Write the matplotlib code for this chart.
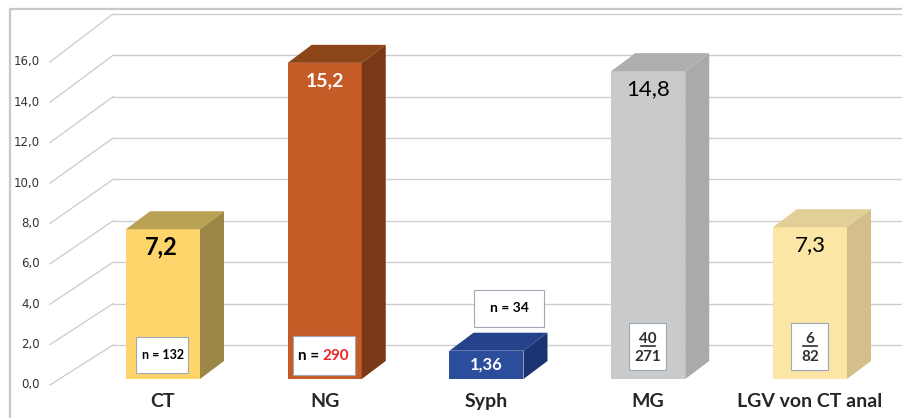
import matplotlib
matplotlib.use('Agg')
import matplotlib.pyplot as plt
from matplotlib.patches import Rectangle, Polygon

# Prevalence per pathogen (%)
categories = ['CT', 'NG', 'Syph', 'MG', 'LGV von CT anal']
rates = [7.2, 15.2, 1.36, 14.8, 7.3]
rate_labels = ['7,2', '15,2', '1,36', '14,8', '7,3']
positives = [None, None, None, 40, 6]
totals = [132, 290, 34, 271, 82]

yticks = [0, 2, 4, 6, 8, 10, 12, 14, 16]
ytick_labels = ['0,0', '2,0', '4,0', '6,0', '8,0', '10,0', '12,0', '14,0', '16,0']

# face colours: front, top, side
front_colors = ['#FDD56A', '#C55B27', '#2C4D9C', '#C9CACC', '#FCE6A6']
top_colors = ['#B9A253', '#8C4419', '#26428A', '#AEAFB1', '#E2CF98']
side_colors = ['#9C8747', '#7A3817', '#1C3371', '#A8AAAC', '#D4BF8C']

# label styles for the value on each bar
val_colors = ['black', 'white', 'white', 'black', 'black']
val_weights = ['bold', 'bold', 'bold', 'normal', 'normal']
val_sizes = [17, 14, 12, 16, 16]

plt.rcParams['font.family'] = ['Lato', 'DejaVu Sans']

fig = plt.figure(figsize=(9.03, 4.18), dpi=100)
ax = fig.add_axes([0, 0, 1, 1])
ax.set_xlim(-1.0077, 4.575)
ax.set_ylim(-1.875, 18.221)
ax.axis('off')

# pixel -> data unit helpers
PX = 1 / 161.75
PY = 1 / 20.8

bar_w = 74 * PX
dx, dy = 24 * PX, 18 * PY

# walls: front edge of floor and back wall
front_x, back_x = -0.699, -0.309
grid_c = '#CFCFCF'
for v, lab in zip(yticks, ytick_labels):
    yf = -0.288 + 0.9707 * v
    yb = 1.635 + 0.9947 * v
    ax.plot([front_x, back_x], [yf, yb], color=grid_c, lw=1, zorder=1)
    ax.plot([back_x, 4.575], [yb, yb], color=grid_c, lw=1, zorder=1)
    ax.text(-0.76, yf, lab, ha='right', va='center', fontsize=8.5,
            color='#333333', family='DejaVu Sans')

# outer frame
ax.plot([0.011, 0.011, 1.0], [0.0, 0.978, 0.978], transform=ax.transAxes,
        color='#C8C8C8', lw=1.6, zorder=1, clip_on=False)

for i, (cat, v) in enumerate(zip(categories, rates)):
    x0 = i - bar_w / 2
    x1 = i + bar_w / 2
    ax.add_patch(Rectangle((x0, 0), bar_w, v, facecolor=front_colors[i],
                           edgecolor='none', zorder=3))
    ax.add_patch(Polygon([(x0, v), (x1, v), (x1 + dx, v + dy), (x0 + dx, v + dy)],
                         closed=True, facecolor=top_colors[i], edgecolor='none', zorder=3))
    ax.add_patch(Polygon([(x1, 0), (x1 + dx, dy), (x1 + dx, v + dy), (x1, v)],
                         closed=True, facecolor=side_colors[i], edgecolor='none', zorder=3))

    # value label
    if v > 3:
        ty = v - 18 * PY
    else:
        ty = v / 2
    ax.text(i - 2 * PX if i == 0 else i, ty, rate_labels[i], ha='center', va='center',
            fontsize=val_sizes[i], color=val_colors[i], fontweight=val_weights[i], zorder=5)

    # category label
    ax.text(i, -23 * PY, cat, ha='center', va='center', fontsize=14,
            fontweight='bold', color='#262626', zorder=5)

box_kw = dict(facecolor='white', edgecolor='#A0A8B8', linewidth=0.8)

# n-count boxes
ax.add_patch(Rectangle((0 - 27 * PX, 6 * PY), 52 * PX, 36 * PY, zorder=4, **box_kw))
ax.text(0, 24 * PY, 'n = 132', ha='center', va='center', fontsize=9,
        fontweight='bold', color='black', zorder=5)

ax.add_patch(Rectangle((1 - 32 * PX, 4 * PY), 62 * PX, 39 * PY, zorder=4, **box_kw))
ax.text(1 - 2 * PX, 23 * PY, 'n = ', ha='right', va='center', fontsize=11,
        fontweight='bold', color='black', zorder=5)
ax.text(1 - 2 * PX, 23 * PY, str(totals[1]), ha='left', va='center', fontsize=11,
        fontweight='bold', color='#E8262A', zorder=5)

ax.add_patch(Rectangle((2 - 12 * PX, 52 * PY), 70 * PX, 37 * PY, zorder=4, **box_kw))
ax.text(2 + 23 * PX, 71 * PY, 'n = %d' % totals[2], ha='center', va='center',
        fontsize=10, fontweight='bold', color='black', zorder=5)

for i in (3, 4):
    ax.add_patch(Rectangle((i - 19 * PX, 9 * PY), 37 * PX, 47 * PY, zorder=4, **box_kw))
    ax.text(i, 40 * PY, str(positives[i]), ha='center', va='center', fontsize=11,
            fontweight='bold', color='#303030', zorder=5)
    ax.plot([i - 7 * PX, i + 7 * PX], [33 * PY, 33 * PY], color='#303030', lw=1.2, zorder=5)
    ax.text(i, 22 * PY, str(totals[i]), ha='center', va='center', fontsize=11,
            fontweight='bold', color='#303030', zorder=5)

fig.savefig('out.png', dpi=100)
